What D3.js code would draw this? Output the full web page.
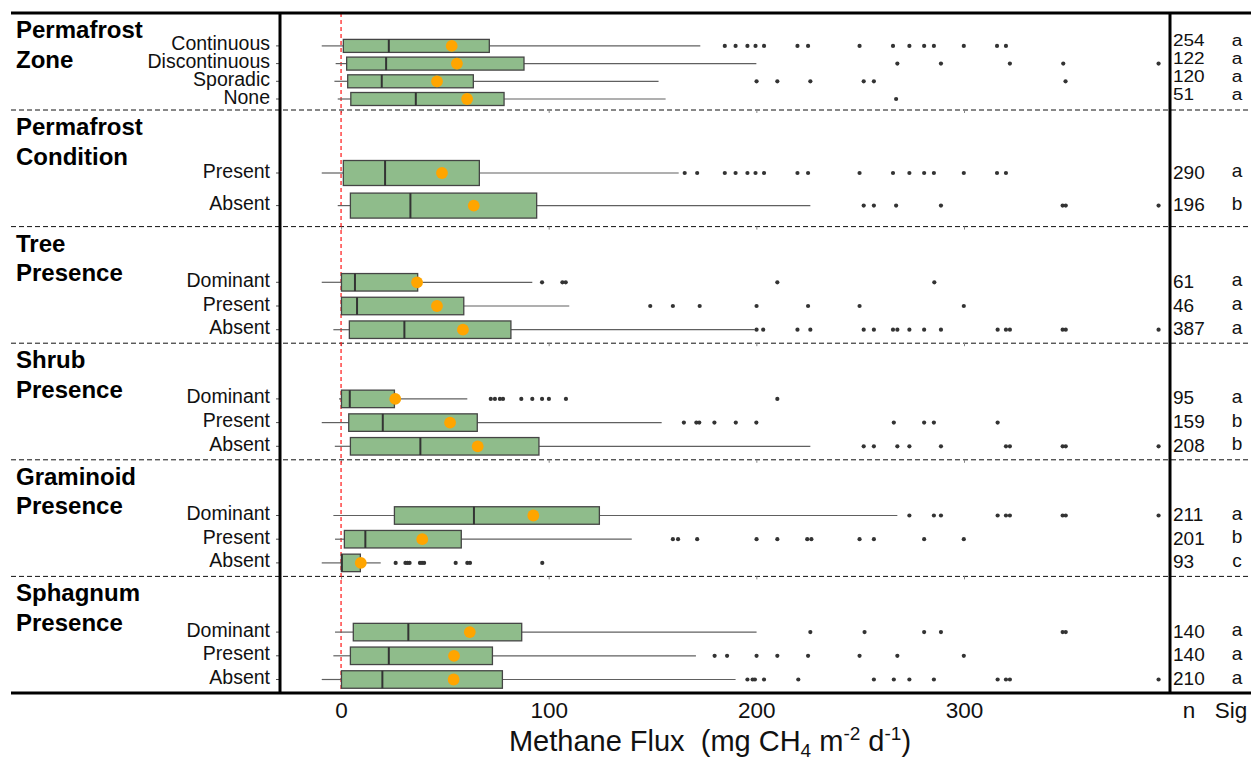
<!DOCTYPE html>
<html>
<head>
<meta charset="utf-8">
<script src="https://cdn.jsdelivr.net/npm/d3@7"></script>
<style>
  html, body { margin: 0; padding: 0; background: #fff; }
  svg { display: block; font-family: "Liberation Sans", Arial, sans-serif; }
</style>
</head>
<body>
<svg id="chart" width="1251" height="760"></svg>
<script>
// ---- Data: methane flux summaries by vegetation / permafrost group ----
const groupTitles = [
  ["Permafrost", "Zone"],
  ["Permafrost", "Condition"],
  ["Tree", "Presence"],
  ["Shrub", "Presence"],
  ["Graminoid", "Presence"],
  ["Sphagnum", "Presence"]
];
const categories = [
  ["Continuous", "Discontinuous", "Sporadic", "None"],
  ["Present", "Absent"],
  ["Dominant", "Present", "Absent"],
  ["Dominant", "Present", "Absent"],
  ["Dominant", "Present", "Absent"],
  ["Dominant", "Present", "Absent"]
];
const whiskerLow = [
  [-9.3, -2.6, -3.2, -1.6],
  [-9.3, -1.6],
  [-9.3, 0.2, -3.7],
  [-1.0, -9.3, -3.0],
  [-3.7, -2.9, -9.3],
  [-2.9, -3.7, -9.3]
];
const q1Values = [
  [1.1, 2.7, 3.2, 4.7],
  [1.1, 4.5],
  [0.2, 0.2, 4.0],
  [0.2, 3.7, 4.5],
  [25.7, 1.6, 0.2],
  [5.9, 4.5, 0.2]
];
const medianValues = [
  [23.0, 21.7, 19.6, 36.0],
  [21.2, 33.4],
  [6.7, 7.7, 30.5],
  [4.2, 20.1, 38.2],
  [64.0, 11.7, 0.4],
  [32.4, 23.0, 19.9]
];
const q3Values = [
  [71.4, 88.1, 63.7, 78.5],
  [66.6, 94.2],
  [36.9, 59.1, 81.8],
  [25.7, 65.6, 95.3],
  [124.4, 57.9, 9.3],
  [87.0, 72.9, 77.7]
];
const whiskerHigh = [
  [173.0, 200.0, 152.9, 156.3],
  [162.6, 226.0],
  [92.1, 109.9, 199.2],
  [60.8, 154.4, 226.0],
  [267.9, 140.0, 19.1],
  [200.1, 170.9, 190.0]
];
const meanValues = [
  [53.3, 55.8, 46.2, 60.7],
  [48.6, 63.9],
  [36.6, 46.2, 58.7],
  [26.1, 52.5, 65.8],
  [92.6, 39.1, 9.5],
  [62.0, 54.4, 54.2]
];
const sampleSizes = [
  [254, 122, 120, 51],
  [290, 196],
  [61, 46, 387],
  [95, 159, 208],
  [211, 201, 93],
  [140, 140, 210]
];
const sigLetters = [
  ["a", "a", "a", "a"],
  ["a", "b"],
  ["a", "a", "a"],
  ["a", "b", "b"],
  ["a", "b", "c"],
  ["a", "a", "a"]
];
const outliers = [
  [
    [184.8, 190, 195.7, 199.6, 203.7, 219.8, 224.9, 249.7, 265.8, 273.7, 280.8, 285.5, 299.9, 315.9, 320.2],
    [267.9, 288.9, 322.1, 347.8, 393.7],
    [200.1, 210.1, 226, 251.7, 256.6, 348.9],
    [267.3]
  ],
  [
    [165.5, 171.5, 184.8, 190, 195.7, 199.6, 203.7, 219.8, 224.9, 249.7, 265.8, 273.7, 280.8, 285.5, 299.9, 315.9, 320.2],
    [251.7, 256.6, 267.3, 288.9, 347.5, 349, 393.7]
  ],
  [
    [96.8, 106.6, 108.2, 210.1, 285.7],
    [148.9, 159.8, 172.7, 200.1, 224.9, 249.7, 299.9],
    [200.1, 203.3, 219.8, 226, 251.7, 256.6, 265.8, 267.9, 273.7, 280.8, 288.9, 316.2, 320.2, 322.1, 347.5, 349, 393.7]
  ],
  [
    [72.1, 74.1, 76.5, 78.0, 86.8, 92.1, 96.8, 100.1, 108.3, 210.1],
    [165.1, 171.1, 172.5, 179.8, 190.1, 200, 266.2, 280.8, 285.5, 316.2],
    [251.7, 256.6, 267.9, 273.7, 288.9, 320.2, 322.1, 347.5, 349, 393.7]
  ],
  [
    [273.7, 285.5, 288.9, 316.2, 320.2, 322.1, 347.5, 349, 393.7],
    [159.8, 162.3, 171.5, 200.1, 210.1, 224.5, 226.5, 249.7, 256.6, 280.8, 299.9],
    [26.3, 31, 32, 33, 38, 39, 40, 55.2, 60.8, 62.1, 96.9]
  ],
  [
    [226, 252.1, 280.8, 288.9, 347.5, 349],
    [179.9, 185.9, 200.1, 210.1, 224.9, 249.7, 267.9, 299.9],
    [195.7, 198.2, 199.3, 203.7, 220.2, 256.6, 266.2, 273.7, 285.5, 316.2, 320.2, 322.1, 393.7]
  ]
];
const tickValues = [0, 100, 200, 300];
const axisDomain = [-29.4, 399.2];

// ---- Layout ----
const W = 1251;
const frameLeft = 11, frameTop = 13, frameBottom = 693;
const plotLeft = 280, plotRight = 1170;
const firstSectionBottom = 110;

// section boundaries: first block is shorter, the rest share the remaining height
const sectionEdges = [frameTop, firstSectionBottom];
const restH = (frameBottom - firstSectionBottom) / (groupTitles.length - 1);
for (let i = 1; i < groupTitles.length; i++) sectionEdges.push(firstSectionBottom + restH * i);

// per-section row geometry (row spacing, box height, gap below last row)
function rowGeometry(nRows, gi) {
  if (gi === 0) return { step: 17.7, boxH: 13, endPad: 11 };
  if (nRows === 2) return { step: 32.6, boxH: 25, endPad: 21 };
  return { step: 23.7, boxH: 17.5, endPad: 13.5 };
}

const svg = d3.select("#chart");
const x = d3.scaleLinear().domain(axisDomain).range([plotLeft, plotRight]);

// flatten rows
const rows = [];
groupTitles.forEach((t, gi) => {
  const cats = categories[gi];
  const g = rowGeometry(cats.length, gi);
  const last = sectionEdges[gi + 1] - g.endPad;
  cats.forEach((c, ri) => {
    rows.push({
      gi, ri, label: c,
      y: last - (cats.length - 1 - ri) * g.step,
      boxH: g.boxH,
      lo: whiskerLow[gi][ri], q1: q1Values[gi][ri], med: medianValues[gi][ri],
      q3: q3Values[gi][ri], hi: whiskerHigh[gi][ri], mean: meanValues[gi][ri],
      n: sampleSizes[gi][ri], sig: sigLetters[gi][ri], out: outliers[gi][ri]
    });
  });
});

// ---- Section separators (dashed) with small axis ticks ----
const sepY = sectionEdges.slice(1, -1);
svg.append("g").selectAll("line").data(sepY).join("line")
  .attr("x1", frameLeft).attr("x2", W)
  .attr("y1", d => d).attr("y2", d => d)
  .attr("stroke", "#111").attr("stroke-width", 1)
  .attr("stroke-dasharray", "5,3");

sepY.forEach(yy => {
  const ax = d3.axisBottom(x).tickValues(tickValues).tickSize(3).tickFormat("");
  const g = svg.append("g").attr("transform", `translate(0,${yy})`).call(ax);
  g.select(".domain").remove();
  g.selectAll(".tick line").attr("stroke", "#888");
});

// ---- Zero reference line ----
svg.append("line")
  .attr("x1", x(0)).attr("x2", x(0))
  .attr("y1", frameTop).attr("y2", frameBottom)
  .attr("stroke", "#ff0000").attr("stroke-width", 1.1)
  .attr("stroke-dasharray", "4,3");

// ---- Boxplots ----
const rowG = svg.append("g").selectAll("g").data(rows).join("g");

// whiskers
rowG.append("line")
  .attr("x1", d => x(d.lo)).attr("x2", d => x(d.q1))
  .attr("y1", d => d.y).attr("y2", d => d.y)
  .attr("stroke", "#606060").attr("stroke-width", 1.2);
rowG.append("line")
  .attr("x1", d => x(d.q3)).attr("x2", d => x(d.hi))
  .attr("y1", d => d.y).attr("y2", d => d.y)
  .attr("stroke", "#606060").attr("stroke-width", 1.2);

// boxes
rowG.append("rect")
  .attr("x", d => x(d.q1)).attr("width", d => x(d.q3) - x(d.q1))
  .attr("y", d => d.y - d.boxH / 2).attr("height", d => d.boxH)
  .attr("fill", "#8fbc8b").attr("stroke", "#454545").attr("stroke-width", 1.3);

// medians
rowG.append("line")
  .attr("x1", d => x(d.med)).attr("x2", d => x(d.med))
  .attr("y1", d => d.y - d.boxH / 2).attr("y2", d => d.y + d.boxH / 2)
  .attr("stroke", "#333").attr("stroke-width", 2);

// outliers
rowG.selectAll("circle.out").data(d => d.out.map(v => ({ v, y: d.y }))).join("circle")
  .attr("class", "out")
  .attr("cx", d => x(d.v)).attr("cy", d => d.y).attr("r", 2.1)
  .attr("fill", "#333");

// means
rowG.append("circle")
  .attr("cx", d => x(d.mean)).attr("cy", d => d.y).attr("r", 5.9)
  .attr("fill", "#ffa500");

// ---- Category labels and y ticks ----
svg.append("g").selectAll("text").data(rows).join("text")
  .attr("x", 270).attr("y", d => d.y + 4.5)
  .attr("text-anchor", "end")
  .attr("font-size", 19.5).attr("fill", "#111")
  .text(d => d.label);
svg.append("g").selectAll("line").data(rows).join("line")
  .attr("x1", plotLeft - 4).attr("x2", plotLeft)
  .attr("y1", d => d.y).attr("y2", d => d.y)
  .attr("stroke", "#555").attr("stroke-width", 1);

// ---- Group titles ----
groupTitles.forEach((lines, gi) => {
  const top = sectionEdges[gi];
  const t = svg.append("text")
    .attr("x", 16).attr("y", top + 25)
    .attr("font-size", 24).attr("font-weight", "bold").attr("fill", "#000");
  lines.forEach((ln, li) => {
    t.append("tspan").attr("x", 16).attr("dy", li === 0 ? 0 : 29.5).text(ln);
  });
});

// ---- n and significance columns ----
const sideG = svg.append("g").selectAll("g").data(rows).join("g")
  .attr("transform", d => d.gi === 0
    ? `translate(0,${d.y + 0.5}) scale(1,0.82)`
    : `translate(0,${d.y + 5.5})`);
sideG.append("text")
  .attr("x", plotRight + 3).attr("y", 0)
  .attr("font-size", 19).attr("fill", "#111")
  .text(d => d.n);
sideG.append("text")
  .attr("x", 1237).attr("y", d => d.gi === 0 ? 0 : -1.5)
  .attr("text-anchor", "middle")
  .attr("font-size", 19).attr("fill", "#111")
  .text(d => d.sig);

// ---- Frame ----
const frame = svg.append("g").attr("stroke", "#000").attr("stroke-width", 3);
frame.append("line").attr("x1", frameLeft).attr("x2", W).attr("y1", frameTop).attr("y2", frameTop);
frame.append("line").attr("x1", frameLeft).attr("x2", W).attr("y1", frameBottom).attr("y2", frameBottom);
frame.append("line").attr("x1", plotLeft).attr("x2", plotLeft).attr("y1", frameTop).attr("y2", frameBottom);
frame.append("line").attr("x1", plotRight).attr("x2", plotRight).attr("y1", frameTop).attr("y2", frameBottom);

// ---- Bottom axis labels ----
const xAxis = d3.axisBottom(x).tickValues(tickValues).tickSize(0).tickPadding(9).tickFormat(d3.format("d"));
const axG = svg.append("g").attr("transform", `translate(0,${frameBottom})`).call(xAxis);
axG.select(".domain").remove();
axG.selectAll(".tick text")
  .attr("font-size", 22.5).attr("fill", "#111")
  .attr("font-family", "Liberation Sans, Arial, sans-serif");

svg.append("text").attr("x", 1189).attr("y", 718)
  .attr("text-anchor", "middle").attr("font-size", 22.5).attr("fill", "#111").text("n");
svg.append("text").attr("x", 1231).attr("y", 718)
  .attr("text-anchor", "middle").attr("font-size", 22.5).attr("fill", "#111").text("Sig");

// ---- Axis title ----
const title = svg.append("text")
  .attr("x", 710).attr("y", 751)
  .attr("text-anchor", "middle")
  .attr("font-size", 29).attr("fill", "#111");
title.append("tspan").text("Methane Flux\u00a0\u00a0(mg CH");
title.append("tspan").attr("font-size", 19).attr("dy", 6).text("4");
title.append("tspan").attr("dy", -6).text(" m");
title.append("tspan").attr("font-size", 19).attr("dy", -11).text("-2");
title.append("tspan").attr("dy", 11).text(" d");
title.append("tspan").attr("font-size", 19).attr("dy", -11).text("-1");
title.append("tspan").attr("dy", 11).text(")");
</script>
</body>
</html>
